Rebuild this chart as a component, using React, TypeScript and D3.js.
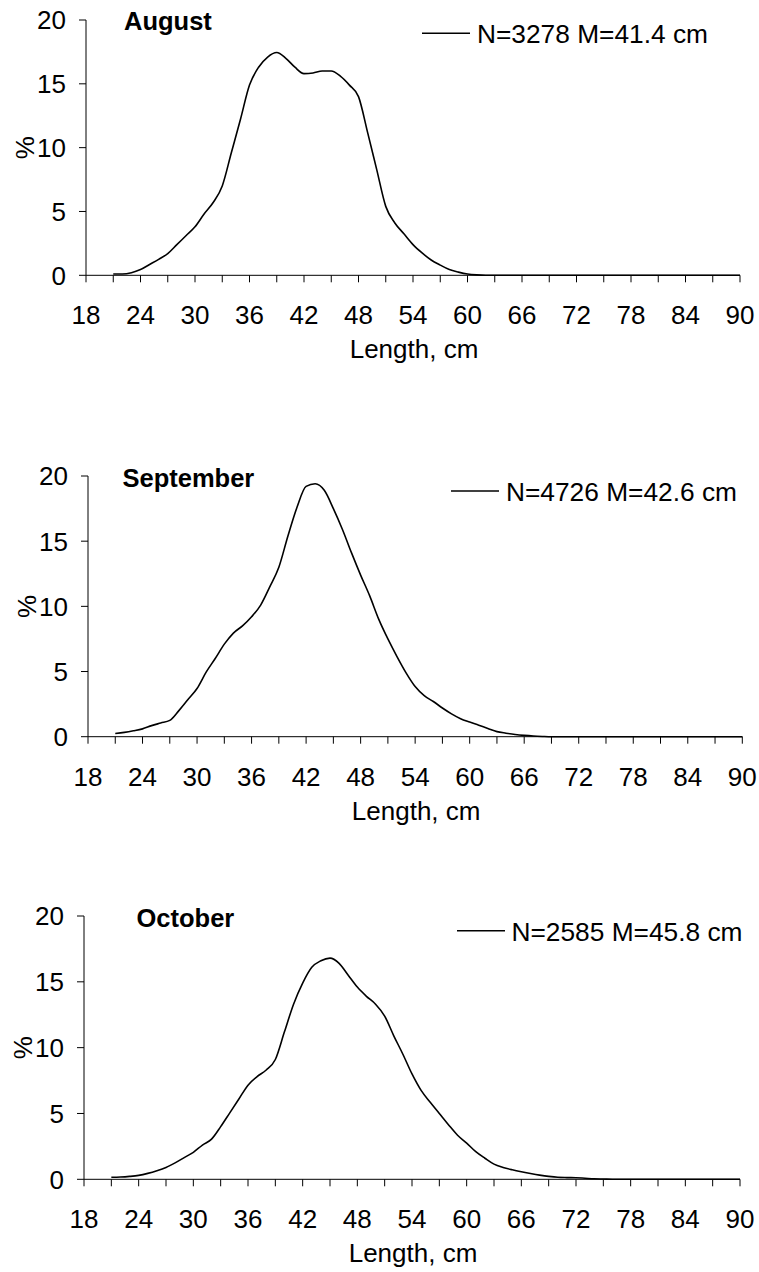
import React from "react";
import * as d3 from "d3";

const lengths = [
  21, 22, 23, 24, 25, 26, 27, 28, 29, 30, 31, 32, 33, 34, 35, 36, 37, 38, 39, 40,
  41, 42, 43, 44, 45, 46, 47, 48, 49, 50, 51, 52, 53, 54, 55, 56, 57, 58, 59, 60,
  61, 62, 63, 64, 65, 66, 67, 68, 69, 70, 71, 72, 73, 74, 75, 76, 77, 78, 79, 80,
  81, 82, 83, 84, 85, 86, 87, 88, 89, 90,
];

const augustValues = [
  0.1, 0.1, 0.2, 0.45, 0.85, 1.25, 1.7, 2.4, 3.1, 3.8, 4.8, 5.7, 7.0, 9.6, 12.2, 14.9, 16.3, 17.1, 17.45, 17.0,
  16.3, 15.8, 15.85, 16.0, 16.0, 15.6, 14.9, 14.0, 11.2, 8.3, 5.4, 4.1, 3.25, 2.4, 1.75, 1.2, 0.8, 0.45, 0.25, 0.1,
  0.03, 0, 0, 0, 0, 0, 0, 0, 0, 0, 0, 0, 0, 0, 0, 0, 0, 0, 0, 0,
  0, 0, 0, 0, 0, 0, 0, 0, 0, 0,
];

const septemberValues = [
  0.25, 0.33, 0.45, 0.6, 0.85, 1.05, 1.25, 2.0, 2.85, 3.7, 4.95, 6.0, 7.1, 7.95, 8.5, 9.2, 10.1, 11.5, 13.0, 15.4,
  17.6, 19.2, 19.4, 18.9, 17.5, 15.9, 14.1, 12.4, 10.8, 9.0, 7.5, 6.15, 4.9, 3.85, 3.15, 2.7, 2.2, 1.75, 1.38, 1.12,
  0.88, 0.63, 0.39, 0.27, 0.17, 0.1, 0.05, 0.02, 0, 0, 0, 0, 0, 0, 0, 0, 0, 0, 0, 0,
  0, 0, 0, 0, 0, 0, 0, 0, 0, 0,
];

const octoberValues = [
  0.15, 0.17, 0.22, 0.3, 0.45, 0.65, 0.9, 1.25, 1.65, 2.05, 2.6, 3.05, 4.0, 5.05, 6.1, 7.15, 7.8, 8.3, 9.1, 11.2,
  13.3, 14.9, 16.1, 16.6, 16.8, 16.4, 15.5, 14.6, 13.9, 13.3, 12.4, 10.9, 9.5, 8.0, 6.75, 5.85, 5.0, 4.15, 3.35, 2.75,
  2.1, 1.6, 1.15, 0.9, 0.72, 0.57, 0.44, 0.32, 0.22, 0.15, 0.13, 0.12, 0.08, 0.04, 0.02, 0, 0, 0, 0, 0,
  0, 0, 0, 0, 0, 0, 0, 0, 0, 0,
];

const monthTitles = ["August", "September", "October"];
const legendLabels = ["N=3278 M=41.4 cm", "N=4726 M=42.6 cm", "N=2585 M=45.8 cm"];
const xTickValues = [18, 21, 24, 27, 30, 33, 36, 39, 42, 45, 48, 51, 54, 57, 60, 63, 66, 69, 72, 75, 78, 81, 84, 87, 90];
const xLabelValues = [18, 24, 30, 36, 42, 48, 54, 60, 66, 72, 78, 84, 90];
const yTickValues = [0, 5, 10, 15, 20];
const xAxisTitle = "Length, cm";
const yAxisTitle = "%";

// layout (pixel geometry) for each panel
const panelLayout = [
  { x0: 86, x1: 740, yTop: 20, yBottom: 275.3, titleX: 124, titleY: 30, legLineX: 422, legTextX: 477, legY: 43.3 },
  { x0: 88, x1: 742.3, yTop: 476, yBottom: 736.7, titleX: 122.5, titleY: 486.7, legLineX: 451, legTextX: 506, legY: 501 },
  { x0: 84, x1: 740, yTop: 916, yBottom: 1179.3, titleX: 136.5, titleY: 927.3, legLineX: 457, legTextX: 511.5, legY: 940.7 },
];

const seriesList = [augustValues, septemberValues, octoberValues];
const FONT = "'Liberation Sans', Arial, Helvetica, sans-serif";

function Panel({ idx }: { idx: number }) {
  const L = panelLayout[idx];
  const values = seriesList[idx];
  const x = d3.scaleLinear().domain([18, 90]).range([L.x0, L.x1]);
  const y = d3.scaleLinear().domain([0, 20]).range([L.yBottom, L.yTop]);
  const data = lengths.map((l, i) => [l, values[i]] as [number, number]);
  const line = d3
    .line<[number, number]>()
    .x((d) => x(d[0]))
    .y((d) => y(d[1]))
    .curve(d3.curveMonotoneX);

  const yMid = (L.yTop + L.yBottom) / 2;
  return (
    <g>
      {/* y axis */}
      <line x1={L.x0} x2={L.x0} y1={y(20)} y2={y(0)} stroke="#000" strokeWidth={1} />
      {yTickValues.map((t) => (
        <g key={"y" + t}>
          <line x1={L.x0 - 7} x2={L.x0} y1={y(t)} y2={y(t)} stroke="#000" strokeWidth={1} />
          <text
            x={L.x0 - 20}
            y={y(t)}
            dy="0.36em"
            textAnchor="end"
            fontFamily={FONT}
            fontSize={26}
            fill="#000"
          >
            {t}
          </text>
        </g>
      ))}
      <text
        transform={`translate(${L.x0 - 61},${yMid}) rotate(-90)`}
        textAnchor="middle"
        dy="0.36em"
        fontFamily={FONT}
        fontSize={26}
        fill="#000"
      >
        {yAxisTitle}
      </text>
      {/* x axis */}
      <line x1={x(18)} x2={x(90)} y1={y(0)} y2={y(0)} stroke="#000" strokeWidth={1} />
      {xTickValues.map((t) => (
        <line key={"xt" + t} x1={x(t)} x2={x(t)} y1={y(0)} y2={y(0) + 7} stroke="#000" strokeWidth={1} />
      ))}
      {xLabelValues.map((t) => (
        <text
          key={"xl" + t}
          x={x(t)}
          y={y(0) + 49}
          textAnchor="middle"
          fontFamily={FONT}
          fontSize={26}
          fill="#000"
        >
          {t}
        </text>
      ))}
      <text
        x={(x(18) + x(90)) / 2 + 1}
        y={y(0) + 83}
        textAnchor="middle"
        fontFamily={FONT}
        fontSize={26}
        fill="#000"
      >
        {xAxisTitle}
      </text>
      {/* series */}
      <path d={line(data) || ""} fill="none" stroke="#000" strokeWidth={1.6} />
      {/* title */}
      <text x={L.titleX} y={L.titleY} fontFamily={FONT} fontSize={25.5} fontWeight="bold" fill="#000">
        {monthTitles[idx]}
      </text>
      {/* legend */}
      <line
        x1={L.legLineX}
        x2={L.legLineX + 48}
        y1={L.legY - 10}
        y2={L.legY - 10}
        stroke="#000"
        strokeWidth={1.6}
      />
      <text x={L.legTextX} y={L.legY} fontFamily={FONT} fontSize={26.3} fill="#000">
        {legendLabels[idx]}
      </text>
    </g>
  );
}

export default function App() {
  return (
    <div style={{ position: "absolute", left: 0, top: 0 }}>
      <svg width={759} height={1272} style={{ display: "block", background: "#fff" }}>
        <rect width={759} height={1272} fill="#fff" />
        {[0, 1, 2].map((i) => (
          <Panel key={i} idx={i} />
        ))}
      </svg>
    </div>
  );
}
